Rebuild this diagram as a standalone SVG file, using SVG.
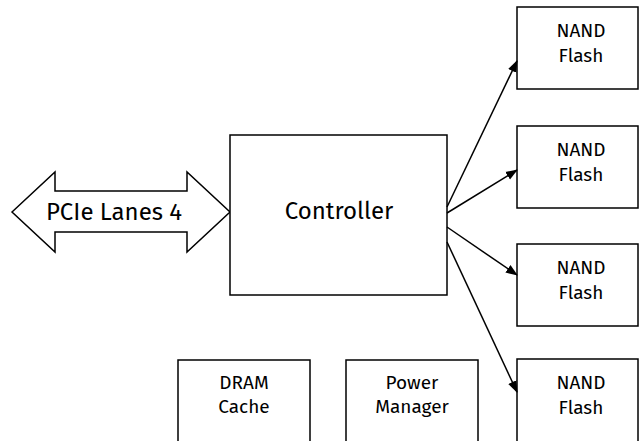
<svg xmlns="http://www.w3.org/2000/svg" width="641" height="441" viewBox="0 0 641 441">
<defs>
<marker id="ah" markerWidth="12" markerHeight="10" refX="11" refY="5" orient="auto" markerUnits="userSpaceOnUse">
<path d="M0,0.5 L12,5 L0,9.5 Z" fill="#000"/>
</marker>
<style>
.box{fill:#fff;stroke:#000;stroke-width:1.5}
.t{font-family:"Fira Sans","Noto Sans","DejaVu Sans",sans-serif;fill:#000;text-anchor:middle}
.s{font-size:19px}
.l{font-size:24px}
.c{stroke:#000;stroke-width:1.5;fill:none;marker-end:url(#ah)}
</style>
</defs>
<rect width="641" height="441" fill="#fff"/>
<g id="pcie">
<path class="box" d="M12,212 L55,172 L55,191 L187,191 L187,172 L230,212 L187,252 L187,232 L55,232 L55,252 Z"/>
<text class="t l" x="114" y="220">PCIe Lanes 4</text>
</g>
<g id="controller">
<rect class="box" x="230" y="135" width="217" height="160"/>
<text class="t l" x="339" y="219">Controller</text>
</g>
<g id="nand1">
<rect class="box" x="517" y="7" width="121" height="82"/>
<text class="t s" x="581" y="37">NAND</text>
<text class="t s" x="581" y="62">Flash</text>
</g>
<g id="nand2">
<rect class="box" x="517" y="126" width="121" height="82"/>
<text class="t s" x="581" y="156">NAND</text>
<text class="t s" x="581" y="181">Flash</text>
</g>
<g id="nand3">
<rect class="box" x="517" y="244" width="121" height="82"/>
<text class="t s" x="581" y="274">NAND</text>
<text class="t s" x="581" y="299">Flash</text>
</g>
<g id="nand4">
<rect class="box" x="517" y="359" width="121" height="90"/>
<text class="t s" x="581" y="389">NAND</text>
<text class="t s" x="581" y="414">Flash</text>
</g>
<g id="dram">
<rect class="box" x="178" y="360" width="132" height="90"/>
<text class="t s" x="244" y="389">DRAM</text>
<text class="t s" x="244" y="413">Cache</text>
</g>
<g id="power">
<rect class="box" x="346" y="360" width="132" height="90"/>
<text class="t s" x="412" y="389">Power</text>
<text class="t s" x="412" y="413">Manager</text>
</g>
<g id="connectors">
<line class="c" x1="447" y1="207" x2="517" y2="61"/>
<line class="c" x1="447" y1="213" x2="517" y2="170"/>
<line class="c" x1="447" y1="227" x2="517" y2="275"/>
<line class="c" x1="447" y1="242" x2="517" y2="392"/>
</g>
</svg>
